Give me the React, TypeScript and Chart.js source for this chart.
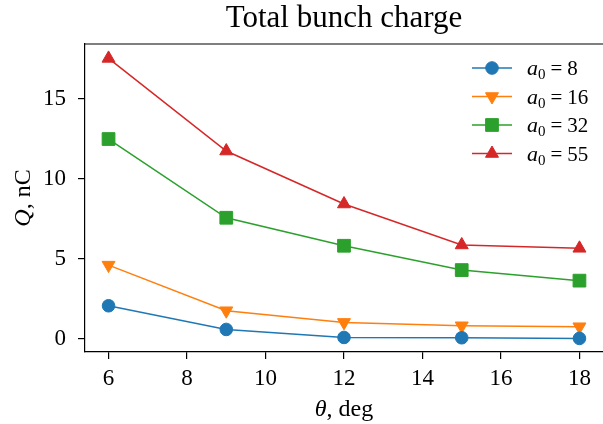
import React, { useEffect, useRef } from "react";
import { Chart, registerables } from "chart.js";

Chart.register(...registerables);

const thetaValues = [6, 9, 12, 15, 18];
const chargeA8 = [2.08, 0.6, 0.1, 0.08, 0.04];
const chargeA16 = [4.62, 1.77, 1.04, 0.83, 0.77];
const chargeA32 = [12.5, 7.58, 5.83, 4.31, 3.65];
const chargeA55 = [17.54, 11.75, 8.44, 5.88, 5.67];
const a0Labels = ["8", "16", "32", "55"];
const xTickValues = [6, 8, 10, 12, 14, 16, 18];
const yTickValues = [0, 5, 10, 15];
const titleText = "Total bunch charge";

const colors = ["#1f77b4", "#ff7f0e", "#2ca02c", "#d62728"];
const FONT = "'Liberation Serif', serif";

type Part = { text: string; italic?: boolean; size: number; dy?: number; gap?: number };

function drawRich(ctx: CanvasRenderingContext2D, parts: Part[], x: number, y: number, align: "left" | "center") {
  let total = 0;
  const widths = parts.map((p) => {
    ctx.font = `${p.italic ? "italic " : ""}${p.size}px ${FONT}`;
    const w = ctx.measureText(p.text).width + (p.gap || 0);
    total += w;
    return w;
  });
  let cx = align === "center" ? x - total / 2 : x;
  ctx.textBaseline = "alphabetic";
  ctx.textAlign = "left";
  parts.forEach((p, i) => {
    ctx.font = `${p.italic ? "italic " : ""}${p.size}px ${FONT}`;
    ctx.fillText(p.text, cx, y + (p.dy || 0));
    cx += widths[i];
  });
}

function drawMarker(ctx: CanvasRenderingContext2D, kind: number, x: number, y: number, color: string) {
  ctx.fillStyle = color;
  ctx.strokeStyle = color;
  ctx.lineWidth = 1;
  ctx.beginPath();
  if (kind === 0) {
    ctx.arc(x, y, 6.3, 0, Math.PI * 2);
  } else if (kind === 1 || kind === 3) {
    const r = 7.5;
    const s = kind === 1 ? -1 : 1;
    ctx.moveTo(x, y - s * r);
    ctx.lineTo(x + r * Math.sin((2 * Math.PI) / 3), y + s * r * 0.5);
    ctx.lineTo(x - r * Math.sin((2 * Math.PI) / 3), y + s * r * 0.5);
    ctx.closePath();
  } else {
    const h = 9 * Math.SQRT1_2;
    ctx.rect(x - h, y - h, 2 * h, 2 * h);
  }
  ctx.fill();
  ctx.stroke();
}

const zeroPad = () => ({ left: 0, top: 0, right: 0, bottom: 0 });

const decorPlugin = {
  id: "decor",
  afterDraw(chart: any) {
    const ctx: CanvasRenderingContext2D = chart.ctx;
    const a = chart.chartArea;
    ctx.save();
    ctx.strokeStyle = "#000";
    ctx.lineWidth = 1.2;
    // top spine (right spine falls just outside the canvas)
    ctx.beginPath();
    ctx.moveTo(a.left, a.top);
    ctx.lineTo(a.right + 2, a.top);
    ctx.stroke();
    ctx.fillStyle = "#000";
    const cx = (a.left + a.right) / 2;
    drawRich(ctx, [{ text: titleText, size: 31 }], cx, 27, "center");
    drawRich(ctx, [{ text: "θ", italic: true, size: 24 }, { text: ", deg", size: 24 }], cx, 416, "center");
    ctx.save();
    ctx.translate(30, (a.top + a.bottom) / 2);
    ctx.rotate(-Math.PI / 2);
    drawRich(ctx, [{ text: "Q", italic: true, size: 24 }, { text: ", nC", size: 24 }], 0, 0, "center");
    ctx.restore();
    // legend
    a0Labels.forEach((lab, i) => {
      const y = 68 + i * 28.5;
      ctx.strokeStyle = colors[i];
      ctx.lineWidth = 1.5;
      ctx.beginPath();
      ctx.moveTo(472, y);
      ctx.lineTo(512, y);
      ctx.stroke();
      drawMarker(ctx, i, 492, y, colors[i]);
      ctx.fillStyle = "#000";
      drawRich(
        ctx,
        [
          { text: "a", italic: true, size: 22 },
          { text: "0", size: 15, dy: 4, gap: 5 },
          { text: "=", size: 21, gap: 5 },
          { text: lab, size: 21 },
        ],
        527,
        y + 7,
        "left"
      );
    });
    ctx.restore();
  },
};

export default function App() {
  const ref = useRef<HTMLCanvasElement>(null);
  useEffect(() => {
    document.body.style.margin = "0";
    const series = [chargeA8, chargeA16, chargeA32, chargeA55];
    const styles = ["circle", "triangle", "rect", "triangle"];
    const radii = [6.3, 7.5, 9, 7.5];
    const rotations = [0, 180, 0, 0];
    const chart = new Chart(ref.current!, {
      type: "line",
      data: {
        datasets: series.map((vals, i) => ({
          label: "a0 = " + a0Labels[i],
          data: thetaValues.map((t, j) => ({ x: t, y: vals[j] })),
          borderColor: colors[i],
          backgroundColor: colors[i],
          pointBackgroundColor: colors[i],
          pointBorderColor: colors[i],
          pointBorderWidth: 1,
          borderWidth: 1.5,
          pointStyle: styles[i] as any,
          pointRadius: radii[i],
          pointRotation: rotations[i],
          tension: 0,
          clip: 20,
        })),
      },
      options: {
        animation: false,
        responsive: false,
        devicePixelRatio: 1,
        layout: { autoPadding: false, padding: { top: 44, left: 0, right: 0, bottom: 0 } },
        plugins: { legend: { display: false }, title: { display: false }, tooltip: { enabled: false } },
        scales: {
          x: {
            type: "linear",
            min: 5.4,
            max: 18.6,
            afterBuildTicks: (s: any) => {
              s.ticks = xTickValues.map((v) => ({ value: v }));
            },
            afterFit: (s: any) => {
              s.height = 72;
              s.paddingLeft = 0;
              s.paddingRight = 0;
              s.getPadding = zeroPad;
            },
            grid: { drawOnChartArea: false, drawTicks: true, tickLength: 7, color: "#000", lineWidth: 1.2 },
            border: { display: true, color: "#000", width: 1.2 },
            ticks: { color: "#000", font: { family: FONT, size: 23 }, padding: 6, maxRotation: 0 },
          },
          y: {
            type: "linear",
            min: -0.81,
            max: 18.44,
            afterBuildTicks: (s: any) => {
              s.ticks = yTickValues.map((v) => ({ value: v }));
            },
            afterFit: (s: any) => {
              s.width = 85;
              s.paddingTop = 0;
              s.paddingBottom = 0;
              s.getPadding = zeroPad;
            },
            grid: { drawOnChartArea: false, drawTicks: true, tickLength: 7, color: "#000", lineWidth: 1.2 },
            border: { display: true, color: "#000", width: 1.2 },
            ticks: { color: "#000", font: { family: FONT, size: 23 }, padding: 12 },
          },
        },
      },
      plugins: [decorPlugin],
    });
    return () => chart.destroy();
  }, []);
  return <canvas ref={ref} width={603} height={424} style={{ display: "block", width: 603, height: 424 }} />;
}
